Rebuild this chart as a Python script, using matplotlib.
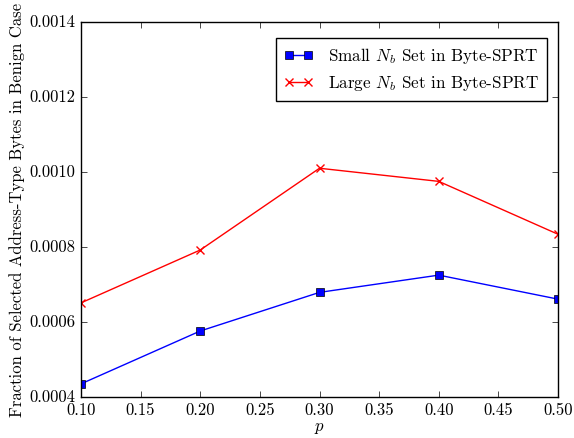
import matplotlib
matplotlib.use("Agg")
import matplotlib.pyplot as plt

plt.style.use("classic")
plt.rcParams["font.family"] = "serif"
plt.rcParams["font.serif"] = ["cmr10"]
plt.rcParams["mathtext.fontset"] = "cm"
plt.rcParams["axes.formatter.use_mathtext"] = True
plt.rcParams["axes.unicode_minus"] = False

p_values = [0.10, 0.20, 0.30, 0.40, 0.50]
small_nb = [0.000435, 0.000576, 0.000679, 0.000725, 0.000661]
large_nb = [0.000651, 0.000792, 0.001010, 0.000975, 0.000834]

fig = plt.figure(figsize=(5.74, 4.38), dpi=100)
fig.patch.set_facecolor("white")
ax = fig.add_axes([81 / 574, 1 - 397 / 438, (558 - 81) / 574, (397 - 22) / 438])

ax.plot(p_values, small_nb, color="blue", marker="s", markersize=5.5,
        markeredgecolor="black", markeredgewidth=0.5, linewidth=1,
        label=r"Small $N_b$ Set in Byte-SPRT")
ax.plot(p_values, large_nb, color="red", marker="x", markersize=5.5,
        markeredgewidth=1, linewidth=1,
        label=r"Large $N_b$ Set in Byte-SPRT")

ax.set_xlim(0.10, 0.50)
ax.set_ylim(0.0004, 0.0014)
ax.set_xticks([0.10, 0.15, 0.20, 0.25, 0.30, 0.35, 0.40, 0.45, 0.50])
ax.set_xticklabels(["0.10", "0.15", "0.20", "0.25", "0.30", "0.35", "0.40", "0.45", "0.50"])
ax.set_yticks([0.0004, 0.0006, 0.0008, 0.0010, 0.0012, 0.0014])
ax.set_yticklabels(["0.0004", "0.0006", "0.0008", "0.0010", "0.0012", "0.0014"])
ax.tick_params(labelsize=12)

ax.set_xlabel(r"$p$", fontsize=12, labelpad=2)
ax.set_ylabel("Fraction of Selected Address-Type Bytes in Benign Case",
              fontsize=12, labelpad=3)

leg = ax.legend(loc="upper right", fontsize=12.3, numpoints=2, frameon=True,
                bbox_to_anchor=(547 / 574, 1 - 38 / 438),
                bbox_transform=fig.transFigure, borderaxespad=0,
                handlelength=1.7, handletextpad=0.9, borderpad=0.45)
leg.get_frame().set_edgecolor("black")

fig.savefig("out.png", dpi=100, facecolor="white")
